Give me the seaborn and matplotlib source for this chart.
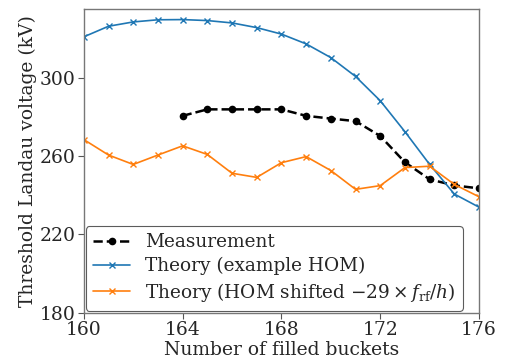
import matplotlib
matplotlib.use("Agg")
import matplotlib.pyplot as plt
import seaborn as sns
import pandas as pd

buckets = list(range(160, 177))
theory_hom = [320.8, 326.2, 328.4, 329.5, 329.6, 329.1, 327.9, 325.5, 322.2,
              317.2, 310.2, 300.6, 288.2, 272.4, 255.7, 240.6, 233.9]
theory_shifted = [268.4, 260.5, 255.7, 260.5, 265.2, 260.8, 251.2, 249.1, 256.6,
                  259.7, 252.6, 243.0, 244.9, 254.1, 254.8, 245.5, 239.2]
meas_buckets = list(range(164, 177))
measurement = [280.5, 283.8, 283.8, 283.8, 283.8, 280.5, 279.1, 277.8, 270.2,
               256.8, 248.1, 245.0, 243.5]

sns.set_style("ticks")
plt.rcParams["font.family"] = ["DejaVu Serif"]
plt.rcParams["mathtext.fontset"] = "dejavuserif"

fig = plt.figure(figsize=(5.08, 3.6), dpi=100)
ax = fig.add_axes([0.165, 0.131, 0.778, 0.844])

df_m = pd.DataFrame({"x": meas_buckets, "y": measurement})
df_t = pd.DataFrame({"x": buckets, "hom": theory_hom, "shift": theory_shifted})

blue, orange = "#1f77b4", "#ff7f0e"
sns.lineplot(data=df_m, x="x", y="y", ax=ax, color="black", linestyle="--",
             linewidth=1.8, marker="o", markersize=5.5, markeredgewidth=0,
             markeredgecolor="black", label="Measurement")
sns.lineplot(data=df_t, x="x", y="hom", ax=ax, color=blue, linewidth=1.2,
             marker="x", markersize=5, markeredgewidth=1.0, markeredgecolor=blue,
             label="Theory (example HOM)")
sns.lineplot(data=df_t, x="x", y="shift", ax=ax, color=orange, linewidth=1.2,
             marker="x", markersize=5, markeredgewidth=1.0, markeredgecolor=orange,
             label=r"Theory (HOM shifted $-29\times f_{\rm rf}/h$)")

ax.set_xlim(160, 176)
ax.set_ylim(180, 335)
ax.set_xticks([160, 164, 168, 172, 176])
ax.set_yticks([180, 220, 260, 300])
ax.set_xlabel("Number of filled buckets", fontsize=13.5, labelpad=1)
ax.set_ylabel("Threshold Landau voltage (kV)", fontsize=13.5, labelpad=2)
ax.tick_params(labelsize=13.5, length=4, width=0.8, color="#555555", pad=2)
for s in ax.spines.values():
    s.set_color("#777777")
    s.set_linewidth(1.0)

leg = ax.legend(loc="lower left", fontsize=13.3, frameon=True, borderaxespad=0.1,
                handlelength=2.0, labelspacing=0.3, fancybox=True)
leg.get_frame().set_edgecolor("#333333")
leg.get_frame().set_linewidth(0.8)

fig.savefig("out.png", dpi=100)
